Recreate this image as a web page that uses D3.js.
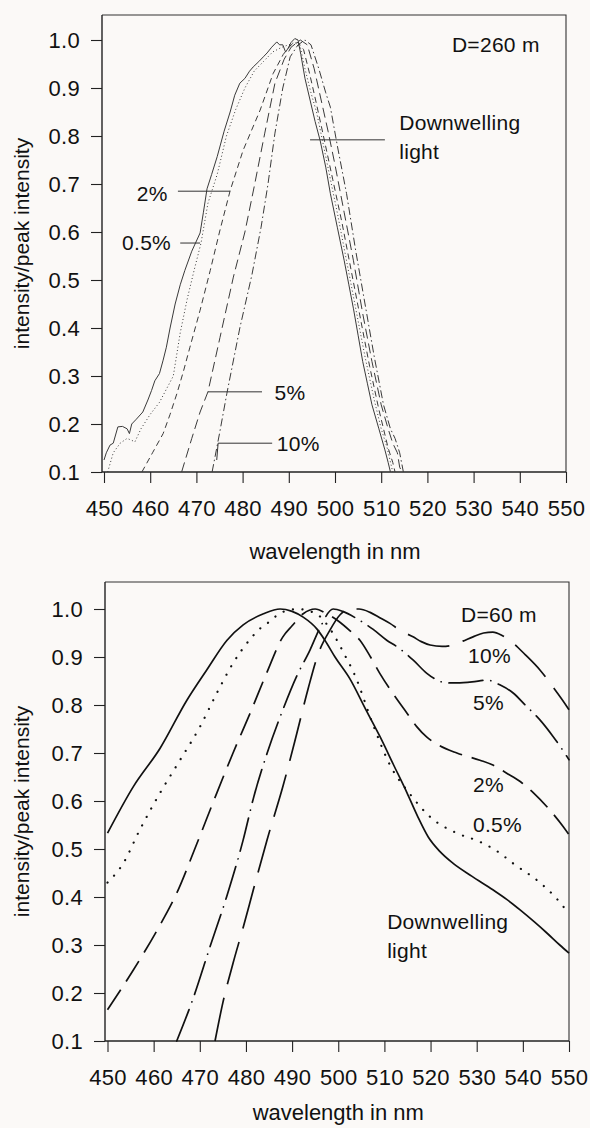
<!DOCTYPE html>
<html><head><meta charset="utf-8">
<script src="https://cdn.jsdelivr.net/npm/d3@7/dist/d3.min.js"></script>
<style>
body{margin:0;background:#fbf9f7;}
svg{display:block;font-family:"Liberation Sans",Arial,Helvetica,sans-serif;}
</style></head><body>
<svg id="chart" width="590" height="1128"></svg>
<script>
// ---------- shared axis data ----------
const xTicks = [450,460,470,480,490,500,510,520,530,540,550];
const yTicks = [0.1,0.2,0.3,0.4,0.5,0.6,0.7,0.8,0.9,1.0];
const xTitle = "wavelength in nm";
const yTitle = "intensity/peak intensity";

// ---------- top panel (D=260 m): [wavelength nm, intensity/peak] ----------
const top_down = [[450,0.125],[450.5,0.14],[451.3,0.156],[452,0.16],[453,0.194],[454,0.195],[455,0.19],[455.5,0.18],[456,0.2],[457,0.21],[458.4,0.225],[459.5,0.25],[460.3,0.27],[461,0.29],[462,0.305],[462.8,0.333],[463.5,0.36],[464.3,0.40],[465.4,0.45],[466.5,0.49],[467.5,0.52],[469,0.56],[470.8,0.598],[471.5,0.64],[472.3,0.69],[473.3,0.72],[474.5,0.757],[476,0.81],[477.3,0.85],[478.3,0.885],[479.4,0.91],[480.5,0.92],[481.5,0.935],[482.3,0.944],[483.5,0.955],[484.5,0.965],[485.3,0.973],[486.3,0.985],[487.4,0.996],[488,0.99],[488.7,0.99],[489.3,0.975],[489.8,0.982],[490.5,0.995],[491.3,1.003],[492,1.0],[492.6,0.97],[493.5,0.92],[494.6,0.875],[495.7,0.83],[496.8,0.79],[498,0.735],[499,0.68],[500.5,0.61],[502,0.54],[503,0.49],[504,0.44],[505,0.385],[506,0.33],[507,0.285],[508,0.24],[509.5,0.19],[510.8,0.146],[511.5,0.12],[512,0.1]];
const top_p05 = [[450.8,0.1],[452,0.14],[453.5,0.16],[455,0.17],[456.7,0.163],[458,0.19],[460,0.22],[462,0.245],[465,0.3],[466.5,0.39],[468,0.46],[469.5,0.52],[471,0.577],[472.5,0.66],[474.5,0.72],[476.5,0.8],[478.5,0.855],[480.5,0.9],[482.5,0.935],[484.5,0.955],[486.5,0.975],[488.5,0.985],[490,0.99],[491.3,0.995],[492.5,0.985],[493.5,0.94],[494.8,0.89],[496,0.85],[497.3,0.79],[499,0.71],[500.5,0.64],[502.5,0.54],[504.5,0.44],[506.5,0.34],[508.5,0.25],[510,0.19],[511.3,0.15],[512.5,0.1]];
const top_p2 = [[458.2,0.1],[460.5,0.14],[462.8,0.18],[464.3,0.22],[465.8,0.264],[467.2,0.31],[468.6,0.36],[470.8,0.437],[473,0.52],[475,0.6],[477.3,0.686],[480.1,0.77],[483.8,0.854],[486.6,0.93],[488.8,0.97],[490.5,0.99],[492,0.995],[493.2,0.98],[494.5,0.93],[495.8,0.875],[497.5,0.8],[499.5,0.71],[501.5,0.62],[503.5,0.52],[505.5,0.42],[507.5,0.32],[509.5,0.23],[511.5,0.15],[512.5,0.12],[513,0.1]];
const top_p5 = [[466.8,0.1],[469,0.17],[470.8,0.225],[472.5,0.267],[475.1,0.38],[478,0.506],[480.5,0.6],[482.5,0.694],[484.8,0.806],[487,0.91],[489,0.96],[490.5,0.985],[492.5,1.0],[494,0.99],[495.5,0.94],[497,0.875],[498.5,0.81],[500,0.74],[502,0.64],[504,0.54],[506,0.43],[508,0.33],[510,0.24],[511.5,0.19],[512.5,0.16],[513.5,0.14],[514,0.11],[514.5,0.1]];
const top_p10 = [[473.4,0.1],[475,0.18],[476.6,0.264],[479.4,0.40],[482,0.51],[484,0.61],[485.5,0.70],[487,0.806],[488.7,0.90],[490.3,0.965],[492,0.99],[493.5,1.0],[494.8,0.99],[496.5,0.94],[498,0.89],[499,0.86],[500.5,0.78],[502.5,0.68],[504.5,0.56],[506.5,0.45],[508.5,0.34],[510.5,0.24],[512,0.19],[513,0.17],[514,0.14],[514.8,0.1]];

// ---------- bottom panel (D=60 m) ----------
const bot_down = [[450,0.533],[455.6,0.63],[461.4,0.71],[467.2,0.81],[471.5,0.873],[475.9,0.935],[479.4,0.967],[483.8,0.99],[487.4,1.0],[490,0.995],[492.4,0.983],[495.4,0.958],[497.1,0.935],[499.3,0.9],[502.5,0.855],[506,0.79],[509,0.735],[512,0.675],[514.9,0.617],[517.2,0.568],[519.5,0.525],[522,0.495],[524.9,0.47],[529,0.443],[533.5,0.415],[536.5,0.395],[539.4,0.373],[542.5,0.348],[545.2,0.325],[548,0.3],[550,0.283]];
const bot_p05 = [[450,0.43],[453.4,0.47],[457,0.54],[461.4,0.617],[465.7,0.685],[470,0.754],[473.7,0.825],[477.2,0.887],[480.9,0.937],[482.9,0.958],[485,0.973],[487.2,0.99],[489.5,0.998],[491.5,1.0],[493.5,0.996],[495.6,0.988],[497.3,0.971],[498.8,0.95],[500,0.93],[501.2,0.908],[503.6,0.862],[507.5,0.76],[511.2,0.675],[515.5,0.615],[519.9,0.567],[525.7,0.533],[530.7,0.515],[534.5,0.495],[537.9,0.47],[543.7,0.43],[547,0.4],[550,0.365]];
const bot_p2 = [[450,0.165],[455.6,0.248],[460.7,0.33],[465,0.408],[469.4,0.512],[473.7,0.617],[477.2,0.70],[480.9,0.783],[484.5,0.867],[488,0.942],[490,0.965],[492.4,0.99],[495,1.0],[497.5,0.99],[500,0.975],[502.5,0.955],[504.7,0.935],[507,0.9],[509,0.866],[512,0.822],[514.9,0.783],[517,0.755],[519.2,0.733],[522,0.715],[525.7,0.7],[530.7,0.685],[533.5,0.675],[536.5,0.658],[539.5,0.64],[542.3,0.617],[545.5,0.585],[548.8,0.546],[550,0.53]];
const bot_p5 = [[465,0.1],[468.6,0.19],[472.2,0.296],[475.8,0.40],[479.4,0.519],[481.6,0.605],[484.6,0.70],[488,0.79],[491,0.86],[493.9,0.915],[496,0.96],[498.9,1.0],[501,0.995],[504,0.98],[507.5,0.958],[510.5,0.935],[512.8,0.921],[516.2,0.894],[519.2,0.866],[521.4,0.852],[523.5,0.846],[525.7,0.846],[529,0.848],[532.2,0.852],[535,0.842],[537.9,0.825],[540.5,0.8],[543.7,0.769],[546.5,0.735],[549.6,0.692],[550,0.686]];
const bot_p10 = [[473.3,0.1],[475,0.18],[477.2,0.262],[479.5,0.34],[481.6,0.415],[484.6,0.52],[488,0.63],[491,0.74],[493.5,0.835],[495.6,0.905],[498.2,0.956],[500.4,0.988],[502.5,1.0],[504.5,1.0],[506.9,0.993],[509,0.982],[511.2,0.97],[513.5,0.955],[516.2,0.942],[518,0.932],[519.9,0.925],[522.5,0.922],[524.9,0.925],[527,0.933],[529.2,0.942],[531.5,0.95],[533.5,0.952],[535.5,0.945],[537.9,0.929],[540.5,0.905],[543.7,0.873],[546.5,0.838],[549.6,0.796],[550,0.79]];

// series names
const seriesNames = ["Downwelling light","0.5%","2%","5%","10%"];

// annotations (data coordinates)
const topLabels = [
  {t:"D=260 m", x:525.3, y:0.975},
  {t:"Downwelling", x:513.9, y:0.8125},
  {t:"light", x:513.9, y:0.752},
  {t:"2%", x:457.1, y:0.665},
  {t:"0.5%", x:453.9, y:0.5625},
  {t:"5%", x:486.9, y:0.25},
  {t:"10%", x:487.4, y:0.144}
];
const topLeaders = [
  [[494.6,0.792],[510.8,0.792]],
  [[466.0,0.685],[477.3,0.685]],
  [[466.5,0.577],[470.8,0.577]],
  [[472.5,0.267],[484.2,0.267]],
  [[474.4,0.125],[474.7,0.16],[486.4,0.16]]
];
const botLabels = [
  {t:"D=60 m", x:526.6, y:0.973},
  {t:"10%", x:528.1, y:0.8875},
  {t:"5%", x:529.2, y:0.79},
  {t:"2%", x:529.2, y:0.619},
  {t:"0.5%", x:529.2, y:0.535},
  {t:"Downwelling", x:510.6, y:0.333},
  {t:"light", x:510.6, y:0.273}
];

const svg = d3.select("#chart");
const FS = 22;

function panel(cfg){
  const x = d3.scaleLinear().domain([450,550]).range([cfg.xl, cfg.xr]);
  const y = d3.scaleLinear().domain([0.1,1.0]).range([cfg.yb, cfg.yt]);
  const g = svg.append("g");
  g.append("path")
    .attr("d", `M${cfg.fl},${cfg.ft}H${cfg.xr}V${cfg.yb}`)
    .attr("fill","none").attr("stroke","#333").attr("stroke-width",1.1);
  const ya = g.append("g").attr("transform",`translate(${cfg.fl},0)`)
    .call(d3.axisLeft(y).tickValues(yTicks).tickFormat(d3.format(".1f")).tickSize(11).tickSizeOuter(0).tickPadding(11));
  ya.select(".domain").remove();
  ya.append("line").attr("x1",0).attr("x2",0).attr("y1",cfg.ft).attr("y2",cfg.yb).attr("stroke","#222").attr("stroke-width",1.4);
  const xa = g.append("g").attr("transform",`translate(0,${cfg.yb})`)
    .call(d3.axisBottom(x).tickValues(xTicks).tickFormat(d3.format("d")).tickSize(11).tickSizeOuter(0).tickPadding(17));
  xa.select(".domain").remove();
  xa.append("line").attr("x1",cfg.fl).attr("x2",cfg.xr).attr("y1",0).attr("y2",0).attr("stroke","#222").attr("stroke-width",1.4);
  [ya,xa].forEach(a=>{
    a.selectAll(".tick line").attr("stroke","#222").attr("stroke-width",1.1);
    a.selectAll(".tick text").attr("font-size",FS).attr("fill","#111").attr("font-family",null).attr("letter-spacing",0.3);
  });
  g.append("text").attr("x",(cfg.xl+cfg.xr)/2).attr("y",cfg.xTitleY).attr("text-anchor","middle")
    .attr("font-size",FS).attr("fill","#111").text(xTitle);
  g.append("text").attr("transform",`translate(29,${(cfg.ft+cfg.yb)/2}) rotate(-90)`).attr("text-anchor","middle")
    .attr("font-size",21).attr("fill","#111").text(yTitle);
  const line = d3.line().x(d=>x(d[0])).y(d=>y(d[1])).curve(cfg.curve);
  cfg.series.forEach(s=>{
    g.append("path").datum(s.data).attr("d",line)
      .attr("fill","none").attr("stroke",cfg.color).attr("stroke-width",s.w)
      .attr("stroke-dasharray",s.dash).attr("stroke-linecap",s.cap||"butt")
      .attr("stroke-linejoin","round");
  });
  (cfg.leaders||[]).forEach(l=>{
    g.append("path").datum(l).attr("d",d3.line().x(d=>x(d[0])).y(d=>y(d[1])))
      .attr("fill","none").attr("stroke","#333").attr("stroke-width",1);
  });
  cfg.labels.forEach(l=>{
    g.append("text").attr("x",x(l.x)).attr("y",y(l.y)).attr("font-size",21)
      .attr("fill","#111").attr("letter-spacing",0.3).text(l.t);
  });
}

panel({
  xl:104, xr:566, yb:472, yt:40, fl:102, ft:15, xTitleY:559,
  color:"#3a3a3a", curve:d3.curveLinear,
  series:[
    {name:seriesNames[0], data:top_down, w:1, dash:null},
    {name:seriesNames[1], data:top_p05, w:1, dash:"1,2.5"},
    {name:seriesNames[2], data:top_p2, w:1, dash:"6,4"},
    {name:seriesNames[3], data:top_p5, w:1, dash:"10,5"},
    {name:seriesNames[4], data:top_p10, w:1, dash:"8,3,1.5,3"}
  ],
  leaders:topLeaders, labels:topLabels
});

panel({
  xl:107.5, xr:569, yb:1041, yt:609, fl:105, ft:582, xTitleY:1120,
  color:"#111", curve:d3.curveMonotoneX,
  series:[
    {name:seriesNames[0], data:bot_down, w:1.7, dash:null},
    {name:seriesNames[1], data:bot_p05, w:2.2, dash:"0.1,9.5", cap:"round"},
    {name:seriesNames[2], data:bot_p2, w:1.7, dash:"24,10"},
    {name:seriesNames[3], data:bot_p5, w:1.7, dash:"34,8,0.1,8", cap:"round"},
    {name:seriesNames[4], data:bot_p10, w:1.7, dash:"44,14"}
  ],
  labels:botLabels
});
</script>
</body></html>
